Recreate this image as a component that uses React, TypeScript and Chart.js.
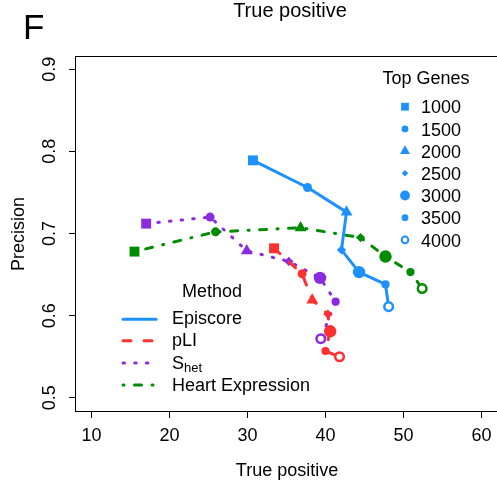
import React, { useEffect, useRef } from 'react';
import { Chart, registerables } from 'chart.js';

Chart.register(...registerables);

// ---------- data ----------
const topGenes = ['1000', '1500', '2000', '2500', '3000', '3500', '4000'];
const xTicks = [10, 20, 30, 40, 50, 60];
const yTicks = [0.5, 0.6, 0.7, 0.8, 0.9];

const episcoreTP = [30.7, 37.7, 42.7, 42.05, 44.3, 47.7, 48.1];
const episcorePrec = [0.789, 0.756, 0.726, 0.68, 0.653, 0.638, 0.611];

const pliTP = [33.4, 37.0, 38.3, 40.3, 40.6, 40.0, 41.8];
const pliPrec = [0.682, 0.651, 0.619, 0.602, 0.581, 0.557, 0.55];

const shetTP = [17.0, 25.2, 29.9, 35.3, 39.3, 41.3, 39.4];
const shetPrec = [0.712, 0.72, 0.679, 0.666, 0.646, 0.617, 0.572];

const heartTP = [15.5, 25.9, 36.8, 44.5, 47.7, 50.9, 52.4];
const heartPrec = [0.678, 0.702, 0.707, 0.695, 0.672, 0.653, 0.633];

// ---------- styles ----------
const FONT = '"Liberation Sans", Arial, Helvetica, sans-serif';
const BLUE = '#1E90FF';
const RED = '#FF3030';
const PURPLE = '#8A2BE2';
const GREEN = '#008B00';

const pointStyles = ['rect', 'circle', 'triangle', 'rectRot', 'circle', 'circle', 'circle'];
const pointRadii = [7, 4.5, 6.8, 4.6, 6.2, 4.1, 4.3];
const pointBorders = [0, 0, 0, 0, 0, 0, 2.5];

const legendRadii = [5.5, 3.4, 5.8, 3.2, 4.9, 3.4, 3.3];

const DASH_SOLID: number[] = [];
const DASH_PLI = [8, 13];
const DASH_SHET = [1.5, 10.2];
const DASH_HEART = [1, 10.5, 7, 10.5];

function makeDataset(label: string, xs: number[], ys: number[], color: string, dash: number[]) {
  return {
    label,
    data: xs.map((x, i) => ({ x, y: ys[i] })),
    borderColor: color,
    borderWidth: 3,
    borderDash: dash,
    borderCapStyle: 'round',
    borderJoinStyle: 'round',
    fill: false,
    tension: 0,
    pointStyle: pointStyles,
    pointRadius: pointRadii,
    pointHoverRadius: pointRadii,
    pointBackgroundColor: pointStyles.map((_, i) => (i === 6 ? '#ffffff' : color)),
    pointBorderColor: color,
    pointBorderWidth: pointBorders,
  };
}

function drawShape(ctx: CanvasRenderingContext2D, style: string, x: number, y: number, r: number, color: string, open: boolean) {
  ctx.beginPath();
  if (style === 'rect') {
    const s = r * Math.SQRT1_2;
    ctx.rect(x - s, y - s, 2 * s, 2 * s);
  } else if (style === 'triangle') {
    ctx.moveTo(x, y - r);
    ctx.lineTo(x + r * 0.866, y + r / 2);
    ctx.lineTo(x - r * 0.866, y + r / 2);
    ctx.closePath();
  } else if (style === 'rectRot') {
    ctx.moveTo(x - r, y);
    ctx.lineTo(x, y - r);
    ctx.lineTo(x + r, y);
    ctx.lineTo(x, y + r);
    ctx.closePath();
  } else {
    ctx.arc(x, y, r, 0, Math.PI * 2);
  }
  if (open) {
    ctx.fillStyle = '#ffffff';
    ctx.fill();
    ctx.lineWidth = 2;
    ctx.strokeStyle = color;
    ctx.stroke();
  } else {
    ctx.fillStyle = color;
    ctx.fill();
  }
}

const decorPlugin = {
  id: 'decor',
  afterDraw(chart: any) {
    const ctx: CanvasRenderingContext2D = chart.ctx;
    const area = chart.chartArea;
    const yScale = chart.scales.y;
    ctx.save();

    // box
    ctx.strokeStyle = '#000';
    ctx.lineWidth = 1;
    ctx.setLineDash([]);
    ctx.strokeRect(Math.round(area.left) - 0.5, Math.round(area.top) + 0.5, Math.round(area.right - area.left) + 1, Math.round(area.bottom - area.top));

    ctx.fillStyle = '#000';
    // panel letter
    ctx.font = `35px ${FONT}`;
    ctx.textAlign = 'left';
    ctx.textBaseline = 'alphabetic';
    ctx.fillText('F', 23, 38.5);

    // title
    ctx.font = `20px ${FONT}`;
    ctx.textAlign = 'center';
    ctx.fillText('True positive', 290, 16.7);

    // x title
    ctx.font = `18px ${FONT}`;
    ctx.fillText('True positive', 287, 476);

    // y title
    ctx.save();
    ctx.translate(24, 234);
    ctx.rotate(-Math.PI / 2);
    ctx.fillText('Precision', 0, 0);
    ctx.restore();

    // y tick labels
    yTicks.forEach((v) => {
      const py = yScale.getPixelForValue(v);
      ctx.save();
      ctx.translate(55, py);
      ctx.rotate(-Math.PI / 2);
      ctx.textAlign = 'center';
      ctx.fillText(v.toFixed(1), 0, 0);
      ctx.restore();
    });

    // Top Genes legend
    ctx.textAlign = 'center';
    ctx.fillText('Top Genes', 426, 84);
    ctx.textAlign = 'left';
    topGenes.forEach((g, i) => {
      const base = 113.3 + i * 22.2;
      drawShape(ctx, pointStyles[i], 405, base - 6.6, legendRadii[i], BLUE, i === 6);
      ctx.fillStyle = '#000';
      ctx.font = `18px ${FONT}`;
      ctx.fillText(g, 421, base);
    });

    // Method legend
    ctx.textAlign = 'center';
    ctx.fillText('Method', 212, 296.7);
    const items = [
      { name: 'Episcore', color: BLUE, dash: DASH_SOLID, base: 324.3 },
      { name: 'pLI', color: RED, dash: DASH_PLI, base: 346 },
      { name: 'S', sub: 'het', color: PURPLE, dash: DASH_SHET, base: 369.3 },
      { name: 'Heart Expression', color: GREEN, dash: DASH_HEART, base: 390.7 },
    ];
    const lineYs = [319.3, 340.7, 363, 385];
    items.forEach((it: any, i) => {
      ctx.save();
      ctx.strokeStyle = it.color;
      ctx.lineWidth = 3;
      ctx.lineCap = 'round';
      ctx.setLineDash(it.dash);
      ctx.beginPath();
      ctx.moveTo(123, lineYs[i]);
      ctx.lineTo(156, lineYs[i]);
      ctx.stroke();
      ctx.restore();
      ctx.fillStyle = '#000';
      ctx.textAlign = 'left';
      ctx.font = `18px ${FONT}`;
      ctx.fillText(it.name, 172, it.base);
      if (it.sub) {
        const w = ctx.measureText(it.name).width;
        ctx.font = `13px ${FONT}`;
        ctx.fillText(it.sub, 172 + w, it.base + 2.5);
        ctx.font = `18px ${FONT}`;
      }
    });

    ctx.restore();
  },
};

export default function App() {
  const ref = useRef<HTMLCanvasElement | null>(null);

  useEffect(() => {
    if (!ref.current) return;
    Chart.defaults.font.family = FONT;
    const chart = new Chart(ref.current, {
      type: 'line',
      data: {
        datasets: [
          makeDataset('Episcore', episcoreTP, episcorePrec, BLUE, DASH_SOLID),
          makeDataset('pLI', pliTP, pliPrec, RED, DASH_PLI),
          makeDataset('Shet', shetTP, shetPrec, PURPLE, DASH_SHET),
          makeDataset('Heart Expression', heartTP, heartPrec, GREEN, DASH_HEART),
        ] as any,
      },
      options: {
        animation: false,
        responsive: false,
        events: [],
        layout: { autoPadding: false, padding: { top: 56, left: 0, right: 0, bottom: 0 } },
        plugins: {
          legend: { display: false },
          title: { display: false },
          tooltip: { enabled: false },
        },
        scales: {
          x: {
            type: 'linear',
            min: 8,
            max: 62,
            afterBuildTicks: (s: any) => {
              s.ticks = xTicks.map((v) => ({ value: v }));
            },
            afterFit: (s: any) => {
              s.height = 72;
              s.paddingLeft = 0;
              s.paddingRight = 0;
              s.paddingTop = 0;
              s.paddingBottom = 0;
            },
            grid: { drawOnChartArea: false, drawTicks: true, tickLength: 7, color: '#000', lineWidth: 1 },
            border: { display: false },
            ticks: {
              color: '#000',
              font: { size: 18, family: FONT },
              padding: 7,
              maxRotation: 0,
              minRotation: 0,
              autoSkip: false,
              callback: (v: any) => String(v),
            },
          },
          y: {
            type: 'linear',
            min: 0.484,
            max: 0.916,
            afterBuildTicks: (s: any) => {
              s.ticks = yTicks.map((v) => ({ value: v }));
            },
            afterFit: (s: any) => {
              s.width = 76;
              s.paddingLeft = 0;
              s.paddingRight = 0;
              s.paddingTop = 0;
              s.paddingBottom = 0;
            },
            grid: { drawOnChartArea: false, drawTicks: true, tickLength: 7, color: '#000', lineWidth: 1 },
            border: { display: false },
            ticks: { display: false },
          },
        },
      } as any,
      plugins: [decorPlugin],
    });
    return () => chart.destroy();
  }, []);

  return (
    <div style={{ position: 'absolute', left: 0, top: 0, width: 497, height: 483, background: '#fff' }}>
      <canvas ref={ref} width={497} height={483} style={{ display: 'block' }} />
    </div>
  );
}
